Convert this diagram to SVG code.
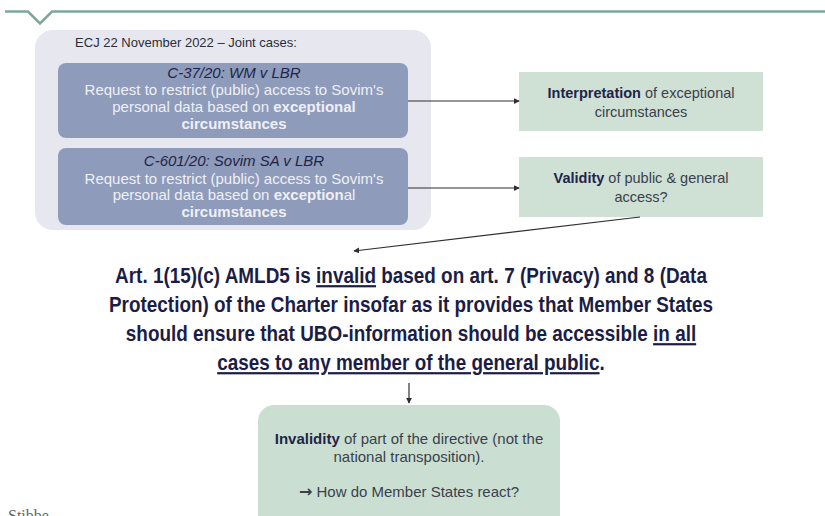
<svg xmlns="http://www.w3.org/2000/svg" width="825" height="516" viewBox="0 0 825 516">
  <style>
    .sans { font-family: "Liberation Sans", Arial, sans-serif; }
    .case { fill: #8e9bbb; }
    .case-title { font-size: 15px; font-style: italic; fill: #1e2548; text-anchor: middle; }
    .case-body { font-size: 15px; fill: #eef0f6; text-anchor: middle; }
    .topic { fill: #cfe0d5; }
    .topic-text { font-size: 14.5px; fill: #3a3f4c; text-anchor: middle; }
    .strong { font-weight: bold; fill: #1e2548; }
    .ruling { font-size: 22px; font-weight: bold; fill: #1c1d45; text-anchor: middle; }
    .note { font-size: 15px; fill: #3a3f4c; text-anchor: middle; }
    .wire { fill: none; stroke: #2e2e33; stroke-width: 1.2; }
  </style>
  <defs>
    <marker id="head" viewBox="0 0 8 8" refX="7" refY="4" markerWidth="6" markerHeight="6" orient="auto" markerUnits="userSpaceOnUse">
      <path d="M0,0 L8,4 L0,8 Z" fill="#2e2e33"/>
    </marker>
  </defs>

  <rect width="825" height="516" fill="#ffffff"/>

  <!-- header rule with notch -->
  <path d="M5,11.5 H28 L40,23.5 L52,11.5 H825" fill="none" stroke="#7fa898" stroke-width="2.5"/>

  <!-- joint cases panel -->
  <g id="joint-cases">
    <rect x="35" y="30" width="396" height="200" rx="18" fill="#e7e8ef"/>
    <text class="sans" x="186" y="47" font-size="13" fill="#2a2d3a" text-anchor="middle">ECJ 22 November 2022 – Joint cases:</text>
  </g>

  <g id="case-c37">
    <rect class="case" x="58" y="63" width="350" height="75" rx="8"/>
    <text class="sans case-title" x="234" y="78">C-37/20: WM v LBR</text>
    <text class="sans case-body" x="234" y="95">Request to restrict (public) access to Sovim's</text>
    <text class="sans case-body" x="234" y="111.5">personal data based on <tspan font-weight="bold">exceptional</tspan></text>
    <text class="sans case-body" x="234" y="128.5" font-weight="bold">circumstances</text>
  </g>

  <g id="case-c601">
    <rect class="case" x="58" y="148" width="350" height="77" rx="8"/>
    <text class="sans case-title" x="234" y="166">C-601/20: Sovim SA v LBR</text>
    <text class="sans case-body" x="234" y="183.5">Request to restrict (public) access to Sovim's</text>
    <text class="sans case-body" x="234" y="200">personal data based on <tspan font-weight="bold">exception</tspan>al</text>
    <text class="sans case-body" x="234" y="217" font-weight="bold">circumstances</text>
  </g>

  <g id="interpretation">
    <rect class="topic" x="519" y="72" width="244" height="59"/>
    <text class="sans topic-text" x="641" y="98"><tspan class="strong">Interpretation</tspan> of exceptional</text>
    <text class="sans topic-text" x="641" y="117">circumstances</text>
  </g>

  <g id="validity">
    <rect class="topic" x="519" y="157" width="244" height="60"/>
    <text class="sans topic-text" x="641" y="183"><tspan class="strong">Validity</tspan> of public &amp; general</text>
    <text class="sans topic-text" x="641" y="202">access?</text>
  </g>

  <!-- ruling set in a narrowed bold face -->
  <g id="ruling" transform="translate(411,0) scale(0.86,1)">
    <text class="sans ruling" x="0" y="283">Art. 1(15)(c) AMLD5 is <tspan text-decoration="underline">invalid</tspan> based on art. 7 (Privacy) and 8 (Data</text>
    <text class="sans ruling" x="0" y="312">Protection) of the Charter insofar as it provides that Member States</text>
    <text class="sans ruling" x="0" y="341">should ensure that UBO-information should be accessible <tspan text-decoration="underline">in all</tspan></text>
    <text class="sans ruling" x="0" y="370"><tspan text-decoration="underline">cases to any member of the general public</tspan>.</text>
  </g>

  <g id="consequence">
    <rect x="258" y="405" width="302" height="130" rx="16" fill="#cadfd2"/>
    <text class="sans note" x="409" y="444"><tspan font-weight="bold" fill="#1e2548">Invalidity</tspan> of part of the directive (not the</text>
    <text class="sans note" x="409" y="462">national transposition).</text>
    <text class="sans note" x="409" y="497"><tspan font-family="'DejaVu Sans', sans-serif" font-size="16" font-weight="bold">→</tspan> How do Member States react?</text>
  </g>

  <g id="connectors">
    <line class="wire" x1="408" y1="101" x2="519" y2="101" marker-end="url(#head)"/>
    <line class="wire" x1="408" y1="188" x2="519" y2="188" marker-end="url(#head)"/>
    <line class="wire" x1="640" y1="217" x2="354" y2="251" marker-end="url(#head)"/>
    <line class="wire" x1="409" y1="383" x2="409" y2="403" marker-end="url(#head)"/>
  </g>

  <text x="8" y="521" font-family="'Liberation Serif', serif" font-size="16" fill="#666666">Stibbe</text>
</svg>
